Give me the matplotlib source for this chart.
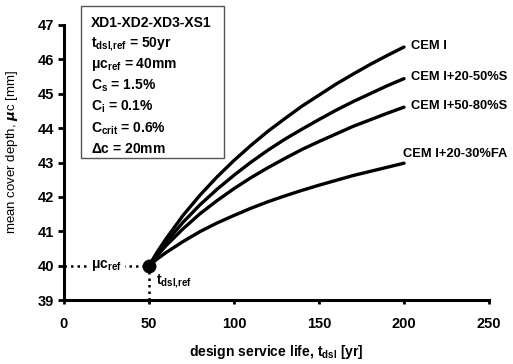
import matplotlib
matplotlib.use("Agg")
import matplotlib.pyplot as plt
from matplotlib.patches import Rectangle

plt.rcParams['font.family'] = ['Liberation Sans', 'DejaVu Sans']
plt.rcParams['font.weight'] = 'bold'
plt.rcParams['mathtext.fontset'] = 'custom'
plt.rcParams['mathtext.rm'] = 'Liberation Sans:bold'
plt.rcParams['mathtext.it'] = 'Liberation Sans:bold'
plt.rcParams['mathtext.bf'] = 'Liberation Sans:bold'

# design service life [yr]
t_dsl = [50, 55, 60, 70, 80, 90, 100, 110, 120, 130, 140, 150, 160, 170, 180, 190, 200]

# mean cover depth [mm] for each binder type
cem_i = [40.0, 40.41, 40.78, 41.46, 42.05, 42.58, 43.06, 43.50, 43.91, 44.28,
         44.64, 44.96, 45.28, 45.57, 45.85, 46.11, 46.36]
cem_i_s2050 = [40.0, 40.35, 40.68, 41.26, 41.77, 42.22, 42.63, 43.01, 43.36, 43.68,
               43.97, 44.25, 44.52, 44.77, 45.00, 45.23, 45.44]
cem_i_s5080 = [40.0, 40.30, 40.58, 41.07, 41.51, 41.89, 42.24, 42.56, 42.85, 43.12,
               43.38, 43.61, 43.83, 44.05, 44.24, 44.43, 44.61]
cem_i_fa2030 = [40.0, 40.20, 40.38, 40.70, 40.99, 41.24, 41.46, 41.67, 41.86, 42.03,
                42.19, 42.34, 42.48, 42.62, 42.74, 42.86, 42.98]

series = [
    ("CEM I", cem_i),
    ("CEM I+20-50%S", cem_i_s2050),
    ("CEM I+50-80%S", cem_i_s5080),
    ("CEM I+20-30%FA", cem_i_fa2030),
]

t_ref = 50
c_ref = 40

x_ticks = [0, 50, 100, 150, 200, 250]
y_ticks = [39, 40, 41, 42, 43, 44, 45, 46, 47]

W, H = 513, 364
fig = plt.figure(figsize=(W / 100, H / 100), dpi=100)
ax = fig.add_axes([64 / W, 1 - 300 / H, (489 - 64) / W, (300 - 25) / H])


def fx(px):
    return px / W


def fy(py):
    return 1 - py / H


for name, vals in series:
    ax.plot(t_dsl, vals, color='black', lw=2.4, solid_capstyle='round',
            solid_joinstyle='round')

label_offsets = {"CEM I": (5, 1), "CEM I+20-50%S": (5, 1),
                 "CEM I+50-80%S": (5, 1), "CEM I+20-30%FA": (-1, 2.5)}
for name, vals in series:
    dx, dy = label_offsets[name]
    ax.annotate(name, xy=(t_dsl[-1], vals[-1]), xytext=(dx, dy),
                textcoords='offset points', fontsize=9.3, fontweight='bold',
                ha='left', va='bottom' if name.endswith('FA') else 'center',
                annotation_clip=False)

# reference point and guide lines
ax.plot([0, t_ref], [c_ref, c_ref], color='black', lw=1.8, ls=(0, (1, 1.6)))
ax.plot([t_ref, t_ref], [39, c_ref], color='black', lw=1.8, ls=(0, (1, 1.6)))
ax.text(25, c_ref, r'$\mu$c$_{\rm ref}$', fontsize=10, ha='center', va='center',
        bbox=dict(facecolor='white', edgecolor='none', pad=2.5))
ax.plot([t_ref], [c_ref], 'o', color='black', ms=9, zorder=5)
ax.text(t_ref + 4, 39.45, r't$_{\rm dsl{,}ref}$', fontsize=10, ha='left',
        va='baseline')

# parameter box
fig.add_artist(Rectangle((fx(81), fy(158)), fx(224) - fx(81), fy(6) - fy(158),
                         transform=fig.transFigure, facecolor='white',
                         edgecolor='#555555', lw=1.0, zorder=3))
box_lines = ["XD1-XD2-XD3-XS1",
             r"t$_{\rm dsl{,}ref}$ = 50yr",
             r"$\mu$c$_{\rm ref}$ = 40mm",
             r"C$_{\rm s}$ = 1.5%",
             r"C$_{\rm i}$ = 0.1%",
             r"C$_{\rm crit}$ = 0.6%",
             r"$\Delta$c = 20mm"]
baselines = [26.7, 47, 68.3, 89.6, 110.9, 132.2, 153]
for line, by in zip(box_lines, baselines):
    fig.text(fx(91), fy(by), line, fontsize=10, fontweight='bold',
             ha='left', va='baseline', zorder=4)

ax.set_xlim(0, 250)
ax.set_ylim(39, 47)
ax.set_xticks(x_ticks)
ax.set_yticks(y_ticks)
ax.tick_params(axis='both', direction='out', width=2, labelsize=10.5)
ax.tick_params(axis='y', length=4, pad=3)
ax.tick_params(axis='x', length=3, pad=9)
for lab in ax.get_xticklabels() + ax.get_yticklabels():
    lab.set_fontweight('bold')

for side in ('top', 'right'):
    ax.spines[side].set_visible(False)
for side in ('left', 'bottom'):
    ax.spines[side].set_linewidth(2.2)

fig.text(fx(276), fy(352), r'design service life, t$_{\rm dsl}$ [yr]', fontsize=10,
         fontweight='bold', ha='center', va='center')
fig.text(fx(12), fy(152), r'mean cover depth, $\mu$c [mm]', fontsize=9.5,
         fontweight='normal', ha='center', va='center', rotation=90,
         math_fontfamily='dejavusans')

fig.savefig('out.png', dpi=100)
